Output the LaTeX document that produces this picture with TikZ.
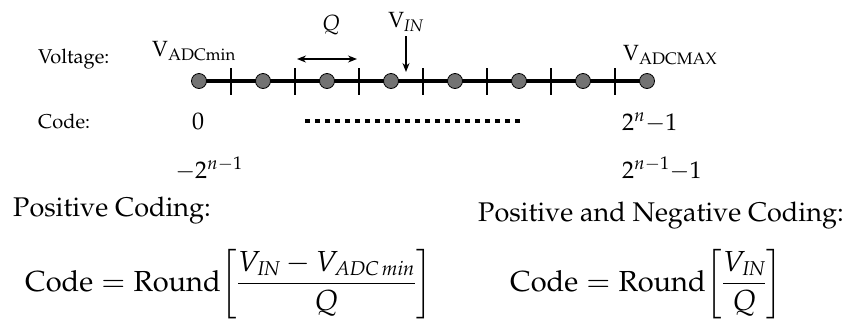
\documentclass[tikz,border=0pt]{standalone}
\usepackage[T1]{fontenc}
\usepackage{amsmath}
\usepackage{mathpazo}
\usepackage{xcolor}
\usepackage{tikz}
\usetikzlibrary{arrows.meta}

\newcommand{\fs}[1]{\fontsize{#1}{#1}\selectfont}
\newcommand{\subtxt}[1]{_{\text{\fs{20}\kern1.5pt\itshape #1}}}

\begin{document}
\begin{tikzpicture}[x=1pt, y=-1pt,
    lbl/.style={inner sep=0pt, anchor=base west, font=\fs{20}},
    num/.style={inner sep=0pt, anchor=base west, font=\fs{24}},
    big/.style={inner sep=0pt, anchor=base west, font=\fs{27}},
    rule/.style={inner sep=0pt, anchor=base west, font=\fs{29}},
    dot/.style={circle, draw=black, fill=black!55, line width=0.8pt, minimum size=15pt, inner sep=0pt},
    arr/.style={-{Stealth[length=9pt, width=7pt]}, line width=1.4pt},
    dbl/.style={{Stealth[length=9pt, width=7pt]}-{Stealth[length=9pt, width=7pt]}, line width=1.4pt}]

    % 1. Fix the frame of the picture (843 x 325)
    \useasboundingbox (0,0) rectangle (843,325);

    % 2. Points of the voltage axis and the thick line through them
    \foreach \i in {0,...,7} \coordinate (p\i) at (199+64*\i, 81);
    \draw[line width=4.5pt] (p0) -- (p7);

    % 3. Tick marks between the points
    \foreach \i in {0,...,6} \draw[line width=2pt] (231+64*\i, 68) -- (231+64*\i, 95);

    % 4. Grey dots on the points
    \foreach \i in {0,...,7} \node[dot] (d\i) at (p\i) {};

    % 5. Row labels and end values
    \node[lbl] (volt) at (38,63) {Voltage:};
    \node[lbl] (code) at (38,128) {Code:};
    \node[num, font=\fs{22}] (vmin) at (152,56) {V\textsubscript{ADCmin}};
    \node[num, font=\fs{22}] (vmax) at (623,60) {V\textsubscript{ADCMAX}};
    \node[num] (zero) at (192,129) {0};
    \node[num] (top) at (622,130) {$2^{n}{-}1$};
    \node[num] (neg) at (175,178) {${-}2^{n-1}$};
    \node[num] (pos) at (622,178) {$2^{n-1}{-}1$};

    % 6. Quantum step Q and the input voltage marker
    \coordinate (qa) at (297,59);
    \coordinate (qb) at (357,59);
    \draw[dbl] (qa) -- (qb);
    \node[inner sep=0pt, anchor=base, font=\fs{22}] (q) at (331,30) {$Q$};
    \node[inner sep=0pt, anchor=base, font=\fs{22}] (vin) at (406,27) {V$_{\mathit{IN}}$};
    \coordinate (vtip) at (406,72);
    \draw[arr] ([yshift=-9pt]vin.base) -- (vtip);

    % 7. Dotted line for the codes in between
    \coordinate (da) at (305,121);
    \coordinate (db) at (523,121);
    \draw[line width=4.5pt, dash pattern=on 5pt off 5pt] (da) -- (db);

    % 8. The two coding rules
    \node[big] (pc) at (13,216) {Positive Coding:};
    \node[big] (pnc) at (478,221) {Positive and Negative Coding:};
    \node[rule] (f1) at (25,291)
        {$\text{Code} = \text{Round}{\left[\dfrac{V\subtxt{IN} - V\subtxt{ADC\,min}}{Q}\right]}$};
    \node[rule] (f2) at (510,291)
        {$\text{Code} = \text{Round}{\left[\dfrac{V\subtxt{IN}}{Q}\right]}$};

\end{tikzpicture}
\end{document}
